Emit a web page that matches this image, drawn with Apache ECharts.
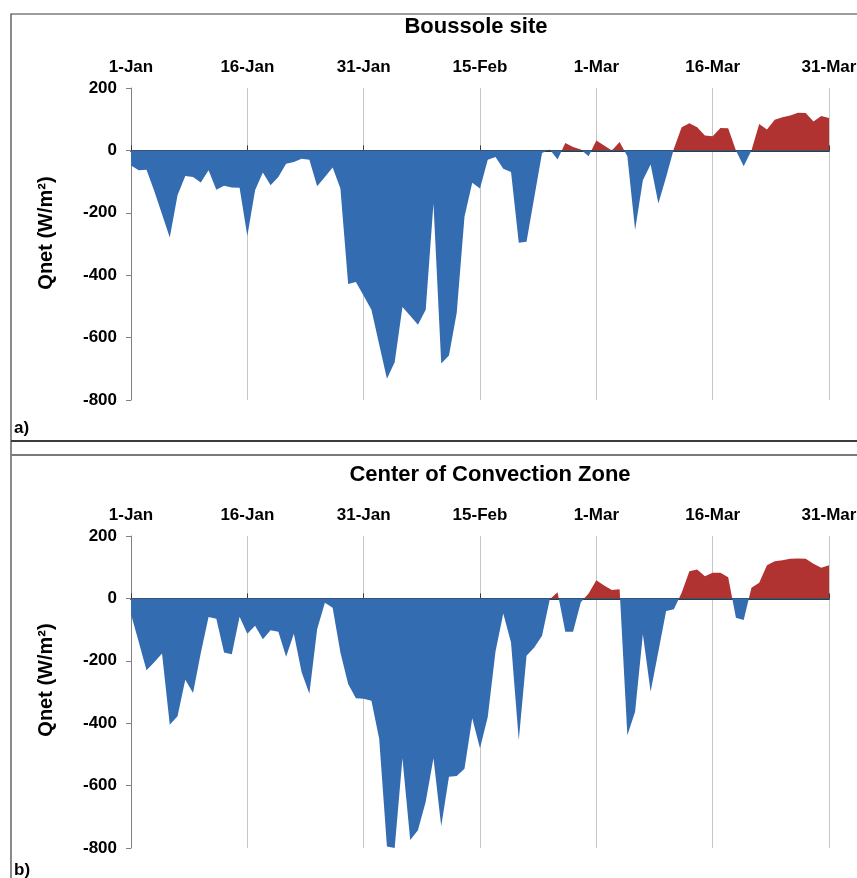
<!DOCTYPE html>
<html>
<head>
<meta charset="utf-8">
<script src="https://cdn.jsdelivr.net/npm/echarts@6/dist/echarts.min.js"></script>
<style>
  html, body { margin: 0; padding: 0; background: #ffffff; }
  #chart { width: 857px; height: 878px; }
</style>
</head>
<body>
<div id="chart"></div>
<script>
// Tick labels every 15 days, starting 1 January
const tickLabels = ['1-Jan', '16-Jan', '31-Jan', '15-Feb', '1-Mar', '16-Mar', '31-Mar'];
const panelTitles = ['Boussole site', 'Center of Convection Zone'];
const panelTags = ['a)', 'b)'];
const yAxisTitle = 'Qnet (W/m²)';

// Daily net heat flux (W/m2), 1 Jan .. 31 Mar
const boussoleQnet = [
  -48, -64, -62, -130, -205, -279, -144, -82, -85, -103,
  -64, -126, -113, -119, -120, -274, -128, -71, -112, -85,
  -43, -37, -27, -30, -115, -85, -55, -122, -428, -422,
  -466, -511, -622, -732, -679, -502, -530, -559, -511, -170,
  -683, -657, -520, -213, -104, -122, -30, -21, -59, -69,
  -296, -293, -150, -8, 3, -29, 24, 11, 3, -19,
  32, 16, 0, 27, -19, -255, -96, -45, -170, -85,
  5, 74, 87, 74, 48, 45, 72, 71, 0, -51,
  0, 85, 67, 98, 106, 112, 121, 120, 93, 110,
  104
];

const convectionQnet = [
  -51, -140, -230, -205, -177, -405, -378, -261, -303, -175,
  -60, -65, -173, -179, -59, -113, -88, -131, -102, -107,
  -187, -113, -237, -306, -99, -14, -30, -173, -274, -320,
  -322, -328, -450, -795, -800, -512, -774, -743, -652, -512,
  -730, -572, -569, -546, -384, -480, -380, -170, -48, -141,
  -455, -184, -157, -120, -3, 20, -107, -107, -12, 16,
  58, 41, 27, 29, -439, -363, -115, -299, -170, -40,
  -35, 18, 87, 93, 71, 82, 82, 68, -62, -69,
  34, 50, 106, 119, 122, 127, 128, 127, 111, 98,
  106
];

const FONT = '"Liberation Sans", Arial, sans-serif';
const BLUE = '#336cb0';
const RED = '#b03331';

const panels = [
  { values: boussoleQnet, top: 88, titleX: 476, titleY: 27, tagY: 428, nameY: 233 },
  { values: convectionQnet, top: 536, titleX: 490, titleY: 475, tagY: 870, nameY: 680 }
];

const grid = [];
const xAxis = [];
const yAxis = [];
const series = [];
const visualMap = [];
const graphic = [
  { type: 'polyline', shape: { points: [[11, 878], [11, 14], [857, 14]] },
    style: { stroke: '#3c3c3c', lineWidth: 1.2, fill: null } },
  { type: 'line', shape: { x1: 11, y1: 441, x2: 857, y2: 441 },
    style: { stroke: '#3c3c3c', lineWidth: 2 } },
  { type: 'line', shape: { x1: 11, y1: 455, x2: 857, y2: 455 },
    style: { stroke: '#7a7a7a', lineWidth: 2 } }
];

panels.forEach((p, gi) => {
  grid.push({ left: 131, top: p.top, width: 698, height: 312, containLabel: false, outerBoundsMode: 'none' });

  // Date labels along the top, with vertical gridlines
  xAxis.push({
    type: 'value', gridIndex: gi, position: 'top', min: 0, max: 90, interval: 15,
    axisLine: { show: false, onZero: false },
    axisTick: { show: false },
    axisLabel: {
      margin: 12, fontFamily: FONT, fontWeight: 'bold', fontSize: 17, color: '#000',
      formatter: v => tickLabels[Math.round(v / 15)]
    },
    splitLine: { show: true, lineStyle: { color: '#c6c6c6', width: 1 } }
  });
  // Zero line with small upward ticks
  xAxis.push({
    type: 'value', gridIndex: gi, position: 'bottom', min: 0, max: 90, interval: 15,
    axisLine: { show: true, onZero: true, lineStyle: { color: '#3a3a3a', width: 2 } },
    axisTick: { show: true, inside: true, length: 5, lineStyle: { color: '#3a3a3a', width: 1 } },
    axisLabel: { show: false },
    splitLine: { show: false }
  });

  yAxis.push({
    type: 'value', gridIndex: gi, min: -800, max: 200, interval: 200,
    axisLine: { show: true, onZero: false, lineStyle: { color: '#808080', width: 1 } },
    axisTick: { show: true, length: 5, lineStyle: { color: '#808080', width: 1 } },
    axisLabel: { margin: 14, fontFamily: FONT, fontWeight: 'bold', fontSize: 17, color: '#000' },
    splitLine: { show: false }
  });

  series.push({
    type: 'line', xAxisIndex: gi * 2, yAxisIndex: gi,
    data: p.values.map((v, i) => [i, v]),
    symbol: 'none', silent: true,
    lineStyle: { opacity: 0 },
    areaStyle: { opacity: 1 }
  });

  // Heat loss in blue, heat gain in red
  visualMap.push({
    type: 'piecewise', show: false, seriesIndex: gi, dimension: 1,
    pieces: [
      { gte: -5000, lt: 0, color: BLUE },
      { gte: 0, lte: 5000, color: RED }
    ],
    outOfRange: { color: BLUE }
  });

  graphic.push({
    type: 'text', x: p.titleX, y: p.titleY,
    style: { text: panelTitles[gi], fontFamily: FONT, fontWeight: 'bold', fontSize: 22,
      fill: '#000', align: 'center', verticalAlign: 'middle',
      textAlign: 'center', textVerticalAlign: 'middle' }
  });
  graphic.push({
    type: 'text', x: 46, y: p.nameY, rotation: Math.PI / 2,
    style: { text: yAxisTitle, fontFamily: FONT, fontWeight: 'bold', fontSize: 20,
      fill: '#000', align: 'center', verticalAlign: 'middle',
      textAlign: 'center', textVerticalAlign: 'middle' }
  });
  graphic.push({
    type: 'text', x: 14, y: p.tagY,
    style: { text: panelTags[gi], fontFamily: FONT, fontWeight: 'bold', fontSize: 17,
      fill: '#000', align: 'left', verticalAlign: 'middle',
      textAlign: 'left', textVerticalAlign: 'middle' }
  });
});

const chart = echarts.init(document.getElementById('chart'), null, { renderer: 'canvas' });
chart.setOption({
  animation: false,
  backgroundColor: '#ffffff',
  grid, xAxis, yAxis, series, visualMap, graphic
});
</script>
</body>
</html>
